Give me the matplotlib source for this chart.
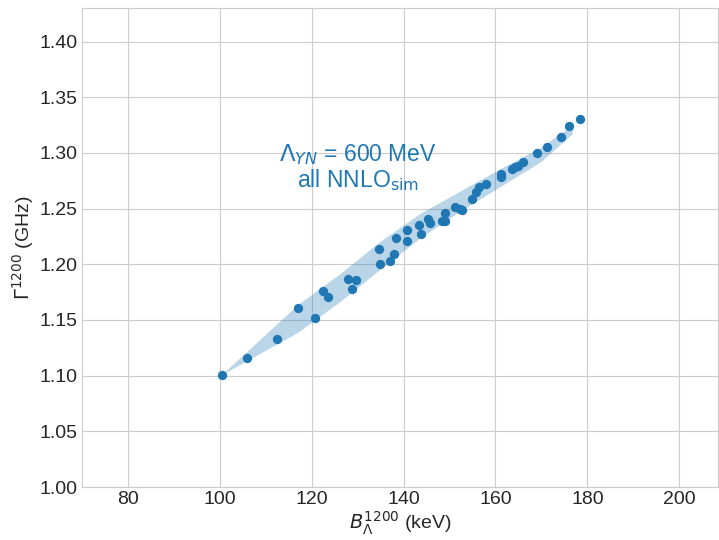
import matplotlib
matplotlib.use('Agg')
import matplotlib.pyplot as plt
import seaborn as sns

# binding energy B_Lambda (keV) and Gamma (GHz)
b_lambda = [100.4, 105.9, 112.4, 117.0, 120.7, 122.4, 123.5, 128.0, 128.7, 129.6,
            134.6, 134.8, 137.0, 138.0, 138.3, 140.7, 140.7, 143.3, 143.9, 145.4,
            145.7, 148.3, 149.0, 149.0, 151.2, 152.2, 152.8, 155.0, 155.7, 156.5,
            158.0, 161.1, 161.3, 163.5, 164.3, 165.0, 166.1, 169.1, 171.3, 174.3,
            176.1, 178.5]
gamma = [1.101, 1.116, 1.133, 1.161, 1.152, 1.176, 1.171, 1.187, 1.178, 1.186,
         1.214, 1.200, 1.203, 1.209, 1.224, 1.231, 1.221, 1.235, 1.227, 1.241,
         1.237, 1.239, 1.246, 1.239, 1.251, 1.250, 1.249, 1.259, 1.265, 1.269,
         1.272, 1.278, 1.281, 1.286, 1.287, 1.288, 1.292, 1.300, 1.305, 1.314,
         1.324, 1.330]

# uncertainty band
band_x = [100.4, 117.0, 126.3, 135.0, 143.7, 152.4, 161.1, 169.8, 176.7]
band_lo = [1.101, 1.139, 1.167, 1.196, 1.224, 1.248, 1.270, 1.292, 1.317]
band_hi = [1.101, 1.164, 1.192, 1.221, 1.246, 1.266, 1.286, 1.305, 1.325]

sns.set_style('whitegrid')
plt.rcParams['font.family'] = ['Liberation Sans', 'DejaVu Sans']
plt.rcParams['mathtext.fontset'] = 'dejavusans'

blue = '#1f77b4'

fig = plt.figure(figsize=(7.19, 5.40), dpi=100)
ax = fig.add_axes([0.114, 0.098, 0.885, 0.887])

ax.fill_between(band_x, band_lo, band_hi, color=blue, alpha=0.3, linewidth=0)
ax.scatter(b_lambda, gamma, s=45, color=blue, zorder=3, linewidths=0)

ax.text(130, 1.287, '$\\Lambda_{YN}$ = 600 MeV\nall NNLO$_{\\rm sim}$',
        color=blue, fontsize=16.5, ha='center', va='center', linespacing=1.0)

ax.set_xlim(70, 208.5)
ax.set_ylim(1.0, 1.43)
ax.set_xticks([80, 100, 120, 140, 160, 180, 200])
ax.set_yticks([1.00, 1.05, 1.10, 1.15, 1.20, 1.25, 1.30, 1.35, 1.40])
ax.set_yticklabels(['%.2f' % v for v in ax.get_yticks()])
ax.tick_params(labelsize=14, colors='.15', length=0, pad=3)
ax.set_xlabel('$B_\\Lambda^{1200}$ (keV)', fontsize=14, color='.15', labelpad=1)
ax.set_ylabel('$\\Gamma^{1200}$ (GHz)', fontsize=14, color='.15', labelpad=3)

fig.savefig('out.png', dpi=100)
